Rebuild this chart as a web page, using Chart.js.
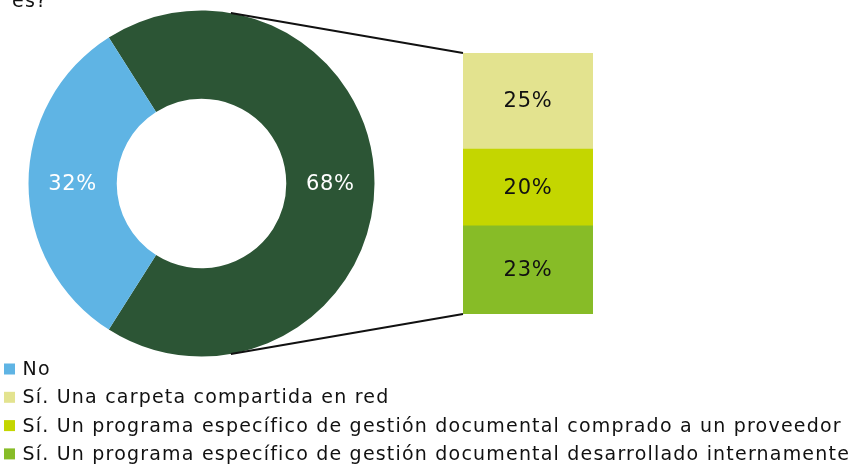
<!DOCTYPE html>
<html>
<head>
<meta charset="utf-8">
<script src="https://cdn.jsdelivr.net/npm/chart.js@4.4.1/dist/chart.umd.min.js"></script>
<style>
    body { margin: 0; background: #fff; }
    #wrap { position: relative; width: 853px; height: 466px; overflow: hidden; }
    #wrap canvas { position: absolute; left: 0; top: 0; }
    #barChart { pointer-events: none; }
</style>
</head>
<body>
<div id="wrap">
    <canvas id="mainChart" width="853" height="466"></canvas>
    <canvas id="barChart" width="853" height="466"></canvas>
</div>
<script>
// datos
const titleTail = 'es?';
const mainLabels = ['Sí', 'No'];
const mainValues = [68, 32];
const subLabels = [
    'Sí. Una carpeta compartida en red',
    'Sí. Un programa específico de gestión documental comprado a un proveedor',
    'Sí. Un programa específico de gestión documental desarrollado internamente'
];
const subValues = [25, 20, 23];

const mainColors = ['#2c5535', '#5fb4e4'];
const subColors = ['#e3e38f', '#c4d600', '#87bc27'];

const FONT = '"DejaVu Sans", Verdana, sans-serif';

// el "Sí" queda centrado a la derecha (90°)
const total = mainValues.reduce((a, b) => a + b, 0);
const rotation = 90 - mainValues[0] / total * 180;

const sliceLabels = {
    id: 'sliceLabels',
    afterDatasetsDraw(chart) {
        const ctx = chart.ctx;
        const meta = chart.getDatasetMeta(0);
        ctx.save();
        ctx.font = '21px ' + FONT;
        ctx.letterSpacing = '0.7px';
        ctx.fillStyle = '#fff';
        ctx.textAlign = 'center';
        ctx.textBaseline = 'middle';
        meta.data.forEach((arc, i) => {
            const p = arc.tooltipPosition();
            ctx.fillText(mainValues[i] + '%', p.x, p.y + 1);
        });
        // resto del título (cortado arriba)
        ctx.fillStyle = '#111';
        ctx.font = '19px ' + FONT;
        ctx.letterSpacing = '1.2px';
        ctx.textAlign = 'left';
        ctx.textBaseline = 'alphabetic';
        ctx.fillText(titleTail, 12, 7);
        ctx.restore();
    }
};

const mainChart = new Chart(document.getElementById('mainChart'), {
    type: 'doughnut',
    data: {
        labels: mainLabels,
        datasets: [{
            data: mainValues,
            backgroundColor: mainColors,
            borderWidth: 0,
            hoverOffset: 0
        }]
    },
    options: {
        responsive: false,
        animation: false,
        cutout: '49%',
        rotation: rotation,
        layout: {padding: {left: 28.5, right: 478.5, top: 10.5, bottom: 109.5}},
        plugins: {legend: {display: false}, tooltip: {enabled: false}}
    },
    plugins: [sliceLabels]
});

// tangente desde un punto exterior al círculo
function tangentPoint(cx, cy, r, px, py, upper) {
    const dx = px - cx, dy = py - cy;
    const d = Math.sqrt(dx * dx + dy * dy);
    const theta = Math.atan2(dy, dx);
    const alpha = Math.acos(r / d);
    const a = upper ? theta - alpha : theta + alpha;
    return {x: cx + r * Math.cos(a), y: cy + r * Math.sin(a)};
}

const barExtras = {
    id: 'barExtras',
    beforeDatasetsDraw(chart) {
        const arc = mainChart.getDatasetMeta(0).data[0];
        const area = chart.chartArea;
        const ctx = chart.ctx;
        const top = tangentPoint(arc.x, arc.y, arc.outerRadius, area.left, area.top, true);
        const bottom = tangentPoint(arc.x, arc.y, arc.outerRadius, area.left, area.bottom, false);
        ctx.save();
        ctx.strokeStyle = '#111';
        ctx.lineWidth = 2;
        ctx.beginPath();
        ctx.moveTo(top.x, top.y);
        ctx.lineTo(area.left, area.top);
        ctx.moveTo(bottom.x, bottom.y);
        ctx.lineTo(area.left, area.bottom);
        ctx.stroke();
        ctx.restore();
    },
    afterDatasetsDraw(chart) {
        const ctx = chart.ctx;
        ctx.save();
        ctx.font = '21px ' + FONT;
        ctx.letterSpacing = '0.7px';
        ctx.fillStyle = '#111';
        ctx.textAlign = 'center';
        ctx.textBaseline = 'middle';
        chart.data.datasets.forEach((ds, i) => {
            const bar = chart.getDatasetMeta(i).data[0];
            ctx.fillText(ds.data[0] + '%', bar.x, (bar.y + bar.base) / 2 + 1);
        });

        // leyenda
        const items = [{text: mainLabels[1], color: mainColors[1]}]
            .concat(subLabels.map((t, i) => ({text: t, color: subColors[i]})));
        ctx.font = '19px ' + FONT;
        ctx.letterSpacing = '1.2px';
        ctx.textAlign = 'left';
        items.forEach((it, i) => {
            const y = 369 + i * 28.3;
            ctx.fillStyle = it.color;
            ctx.fillRect(4, y - 5.5, 11, 11);
            ctx.fillStyle = '#111';
            ctx.fillText(it.text, 22.5, y + 1);
        });
        ctx.restore();
    }
};

// barra apilada: de abajo hacia arriba
const order = [2, 1, 0];
new Chart(document.getElementById('barChart'), {
    type: 'bar',
    data: {
        labels: ['Sí'],
        datasets: order.map(i => ({
            label: subLabels[i],
            data: [subValues[i]],
            backgroundColor: subColors[i],
            borderWidth: 0,
            barPercentage: 1,
            categoryPercentage: 1
        }))
    },
    options: {
        responsive: false,
        animation: false,
        layout: {padding: {left: 463, right: 260, top: 53, bottom: 152}},
        scales: {
            x: {display: false, stacked: true},
            y: {display: false, stacked: true, min: 0, max: subValues.reduce((a, b) => a + b, 0)}
        },
        plugins: {legend: {display: false}, tooltip: {enabled: false}}
    },
    plugins: [barExtras]
});
</script>
</body>
</html>
